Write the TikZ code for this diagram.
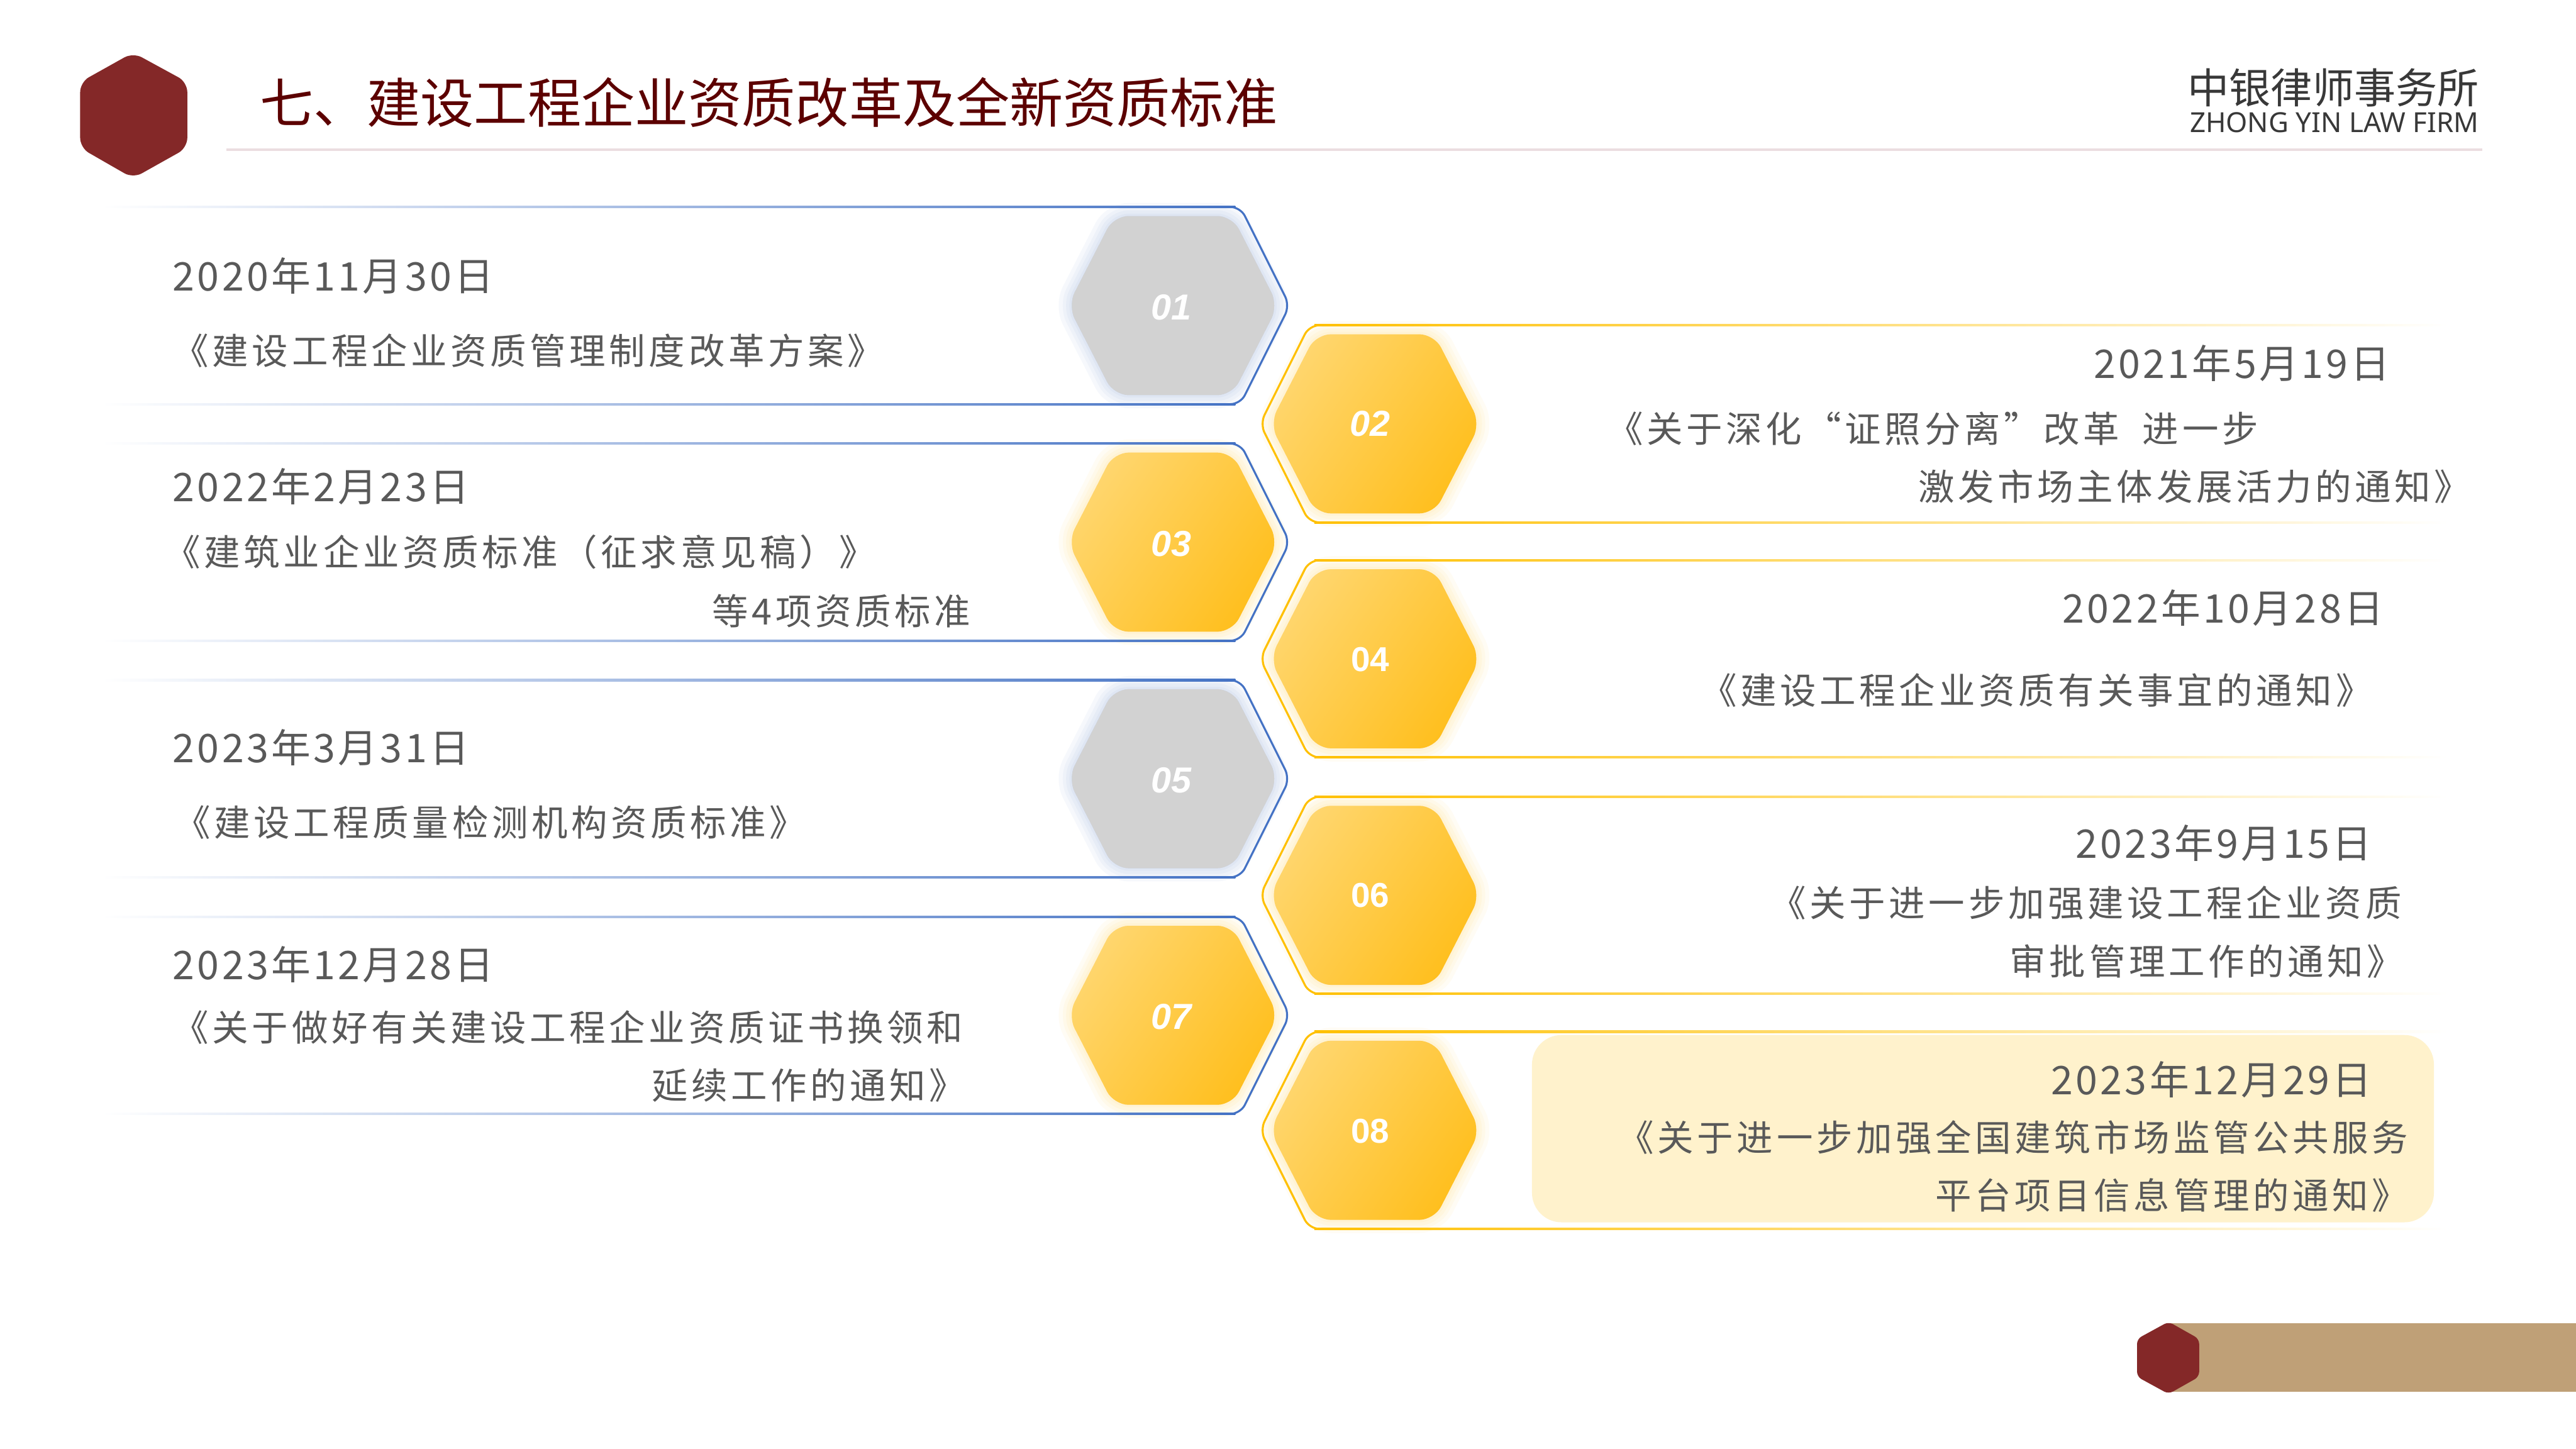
\documentclass[tikz,border=0pt]{standalone}
\usepackage{fontspec}
\usepackage{xcolor}
\setmainfont{Noto Sans CJK SC}
\newfontfamily\bodyfont[LetterSpace=9.8]{Noto Sans CJK SC}
\newfontfamily\dayfont[LetterSpace=7]{Noto Sans CJK SC}
\newfontfamily\cellfont{Liberation Sans}
\newfontfamily\logolatin{Noto Sans}
\definecolor{wine}{HTML}{842828}
\definecolor{titlered}{HTML}{5C0000}
\definecolor{bodygrey}{HTML}{595959}
\definecolor{framblue}{HTML}{4472C4}
\definecolor{framgold}{HTML}{FFC000}
\definecolor{goldlight}{HTML}{FFD66E}
\definecolor{golddeep}{HTML}{FFBF1E}
\definecolor{cellgrey}{HTML}{D2D2D2}
\definecolor{tanbar}{HTML}{BFA077}
\definecolor{paleyellow}{HTML}{FFF2CC}
\definecolor{headrule}{HTML}{EBDDE0}
\usetikzlibrary{positioning}
\tikzset{
  daytext/.style={text=bodygrey, inner sep=0pt, font=\fontsize{24}{28}\dayfont},
  doctext/.style={text=bodygrey, inner sep=0pt, font=\fontsize{22}{26}\bodyfont},
  cellnum/.style={text=white, inner sep=0pt, font=\fontsize{22}{24}\cellfont\bfseries\itshape},
  cellbold/.style={text=white, inner sep=0pt, font=\fontsize{21}{23}\cellfont\bfseries},
  bluerim/.style={draw=framblue, line width=1.2pt, rounded corners=6},
  goldrim/.style={draw=framgold, line width=1.2pt, rounded corners=6},
  greycell/.style={fill=cellgrey, rounded corners=9},
  goldcell/.style={left color=goldlight, right color=golddeep, shading angle=55, rounded corners=9},
  halo/.style={opacity=0.045, line join=round, rounded corners=9, line width=#1},
}
% six corners round a centre: half width 64, shoulder 36, half height 54.5
\newcommand{\hexat}[1]{([shift={(-64,0)}]#1) -- ([shift={(-36,-54.5)}]#1) -- ([shift={(36,-54.5)}]#1) -- ([shift={(64,0)}]#1) -- ([shift={(36,54.5)}]#1) -- ([shift={(-36,54.5)}]#1) -- cycle}
\newcommand{\haloat}[2]{
  \draw[halo=16pt, draw=#2, fill=#2, shift={(5,4)}] \hexat{#1};
  \draw[halo=11pt, draw=#2, fill=#2, shift={(5,4)}] \hexat{#1};
  \draw[halo=7pt, draw=#2, fill=#2, shift={(5,4)}] \hexat{#1};
  \draw[halo=3pt, draw=#2, fill=#2, shift={(5,4)}] \hexat{#1};
}
\newcommand{\bluefram}[1]{
  \shade[left color=white, middle color=framblue!45!white, right color=framblue] ([shift={(-690,-60.6)}]#1) rectangle ([shift={(0,-59.4)}]#1);
  \shade[left color=white, middle color=framblue!45!white, right color=framblue] ([shift={(-690,59.4)}]#1) rectangle ([shift={(0,60.6)}]#1);
  \draw[bluerim] ([shift={(-1,-60)}]#1) -- ([shift={(3,-60)}]#1) -- ([shift={(33,0)}]#1) -- ([shift={(3,60)}]#1) -- ([shift={(-1,60)}]#1);
}
\newcommand{\goldfram}[1]{
  \shade[left color=framgold, middle color=framgold!50!white, right color=white] ([shift={(0,-60.6)}]#1) rectangle ([shift={(690,-59.4)}]#1);
  \shade[left color=framgold, middle color=framgold!50!white, right color=white] ([shift={(0,59.4)}]#1) rectangle ([shift={(690,60.6)}]#1);
  \draw[goldrim] ([shift={(1,-60)}]#1) -- ([shift={(-3,-60)}]#1) -- ([shift={(-33,0)}]#1) -- ([shift={(-3,60)}]#1) -- ([shift={(1,60)}]#1);
}
\begin{document}
\begin{tikzpicture}[x=1pt, y=-1pt]
  \useasboundingbox (0,0) rectangle (1568,882);
  \fill[white] (0,0) rectangle (1568,882);

  \coordinate (h1) at (714,186);
  \coordinate (h2) at (837,258);
  \coordinate (h3) at (714,330);
  \coordinate (h4) at (837,401);
  \coordinate (h5) at (714,474);
  \coordinate (h6) at (837,545);
  \coordinate (h7) at (714,618);
  \coordinate (h8) at (837,688);

  \fill[wine, rounded corners=6] (81,32) -- (114,50) -- (114,90) -- (81,108.5) -- (48.8,90) -- (48.8,50) -- cycle;
  \node[anchor=west, inner sep=0pt, text=titlered, font=\fontsize{32.6}{36}\selectfont] (title) at (158,62.5) {七、建设工程企业资质改革及全新资质标准};
  \fill[headrule] (138,90.2) rectangle (1511,91.8);
  \node[anchor=east, inner sep=0pt, text=black!78, font=\fontsize{25.3}{28}\selectfont] (firm) at (1509,53.5) {中银律师事务所};
  \node[anchor=east, inner sep=0pt, text=black!78, font=\fontsize{16.8}{19}\logolatin] (firmen) at (1509,74.5) {ZHONG YIN LAW FIRM};

  \haloat{h1}{framblue}
  \haloat{h3}{framgold}
  \haloat{h5}{framblue}
  \haloat{h7}{framgold}
  \haloat{h2}{framgold}
  \haloat{h4}{framgold}
  \haloat{h6}{framgold}
  \haloat{h8}{framgold}

  \fill[paleyellow, rounded corners=18] (932.5,630) rectangle (1481.5,744);

  \bluefram{752,186}
  \bluefram{752,330}
  \bluefram{752,474}
  \bluefram{752,618}
  \goldfram{800,258}
  \goldfram{800,401}
  \goldfram{800,545}
  \goldfram{800,688}

  \fill[greycell] \hexat{h1};
  \shade[goldcell] \hexat{h2};
  \shade[goldcell] \hexat{h3};
  \shade[goldcell] \hexat{h4};
  \fill[greycell] \hexat{h5};
  \shade[goldcell] \hexat{h6};
  \shade[goldcell] \hexat{h7};
  \shade[goldcell] \hexat{h8};

  \node[cellnum] (n1) at (713,187) {01};
  \node[cellnum] (n2) at (834,258) {02};
  \node[cellnum] (n3) at (713,331) {03};
  \node[cellbold] (n4) at (834,401.5) {04};
  \node[cellnum] (n5) at (713,475) {05};
  \node[cellbold] (n6) at (834,545) {06};
  \node[cellnum] (n7) at (713,619) {07};
  \node[cellbold] (n8) at (834,688.5) {08};

  \node[daytext, anchor=west] (d1) at (105,168) {2020年11月30日};
  \node[doctext, anchor=west] (t1) at (105,213.5) {《建设工程企业资质管理制度改革方案》};

  \node[daytext, anchor=east] (d2) at (1455,221) {2021年5月19日};
  \node[doctext, anchor=west] (t2a) at (978,261) {《关于深化“证照分离”改革\ \ 进一步};
  \node[doctext, anchor=east] (t2b) at (1504,296) {激发市场主体发展活力的通知》};

  \node[daytext, anchor=west] (d3) at (105,296) {2022年2月23日};
  \node[doctext, anchor=west] (t3a) at (100,336) {《建筑业企业资质标准（征求意见稿）》};
  \node[doctext, anchor=east] (t3b) at (591,372) {等4项资质标准};

  \node[daytext, anchor=east] (d4) at (1451,370) {2022年10月28日};
  \node[doctext, anchor=east] (t4) at (1444,420) {《建设工程企业资质有关事宜的通知》};

  \node[daytext, anchor=west] (d5) at (105,455) {2023年3月31日};
  \node[doctext, anchor=west] (t5) at (106,500.5) {《建设工程质量检测机构资质标准》};

  \node[daytext, anchor=east] (d6) at (1444,513) {2023年9月15日};
  \node[doctext, anchor=east] (t6a) at (1462,549.5) {《关于进一步加强建设工程企业资质};
  \node[doctext, anchor=east] (t6b) at (1463,585) {审批管理工作的通知》};

  \node[daytext, anchor=west] (d7) at (105,587) {2023年12月28日};
  \node[doctext, anchor=west] (t7a) at (105,625.5) {《关于做好有关建设工程企业资质证书换领和};
  \node[doctext, anchor=east] (t7b) at (588,660.5) {延续工作的通知》};

  \node[daytext, anchor=east] (d8) at (1444,657) {2023年12月29日};
  \node[doctext, anchor=east] (t8a) at (1466,692.5) {《关于进一步加强全国建筑市场监管公共服务};
  \node[doctext, anchor=east] (t8b) at (1466,727.5) {平台项目信息管理的通知》};

  \fill[tanbar] (1320,805.5) rectangle (1568,847);
  \fill[wine, rounded corners=3] (1320,804.5) -- (1338.6,815) -- (1338.6,838) -- (1320,848.5) -- (1300.8,838) -- (1300.8,815) -- cycle;
\end{tikzpicture}
\end{document}
